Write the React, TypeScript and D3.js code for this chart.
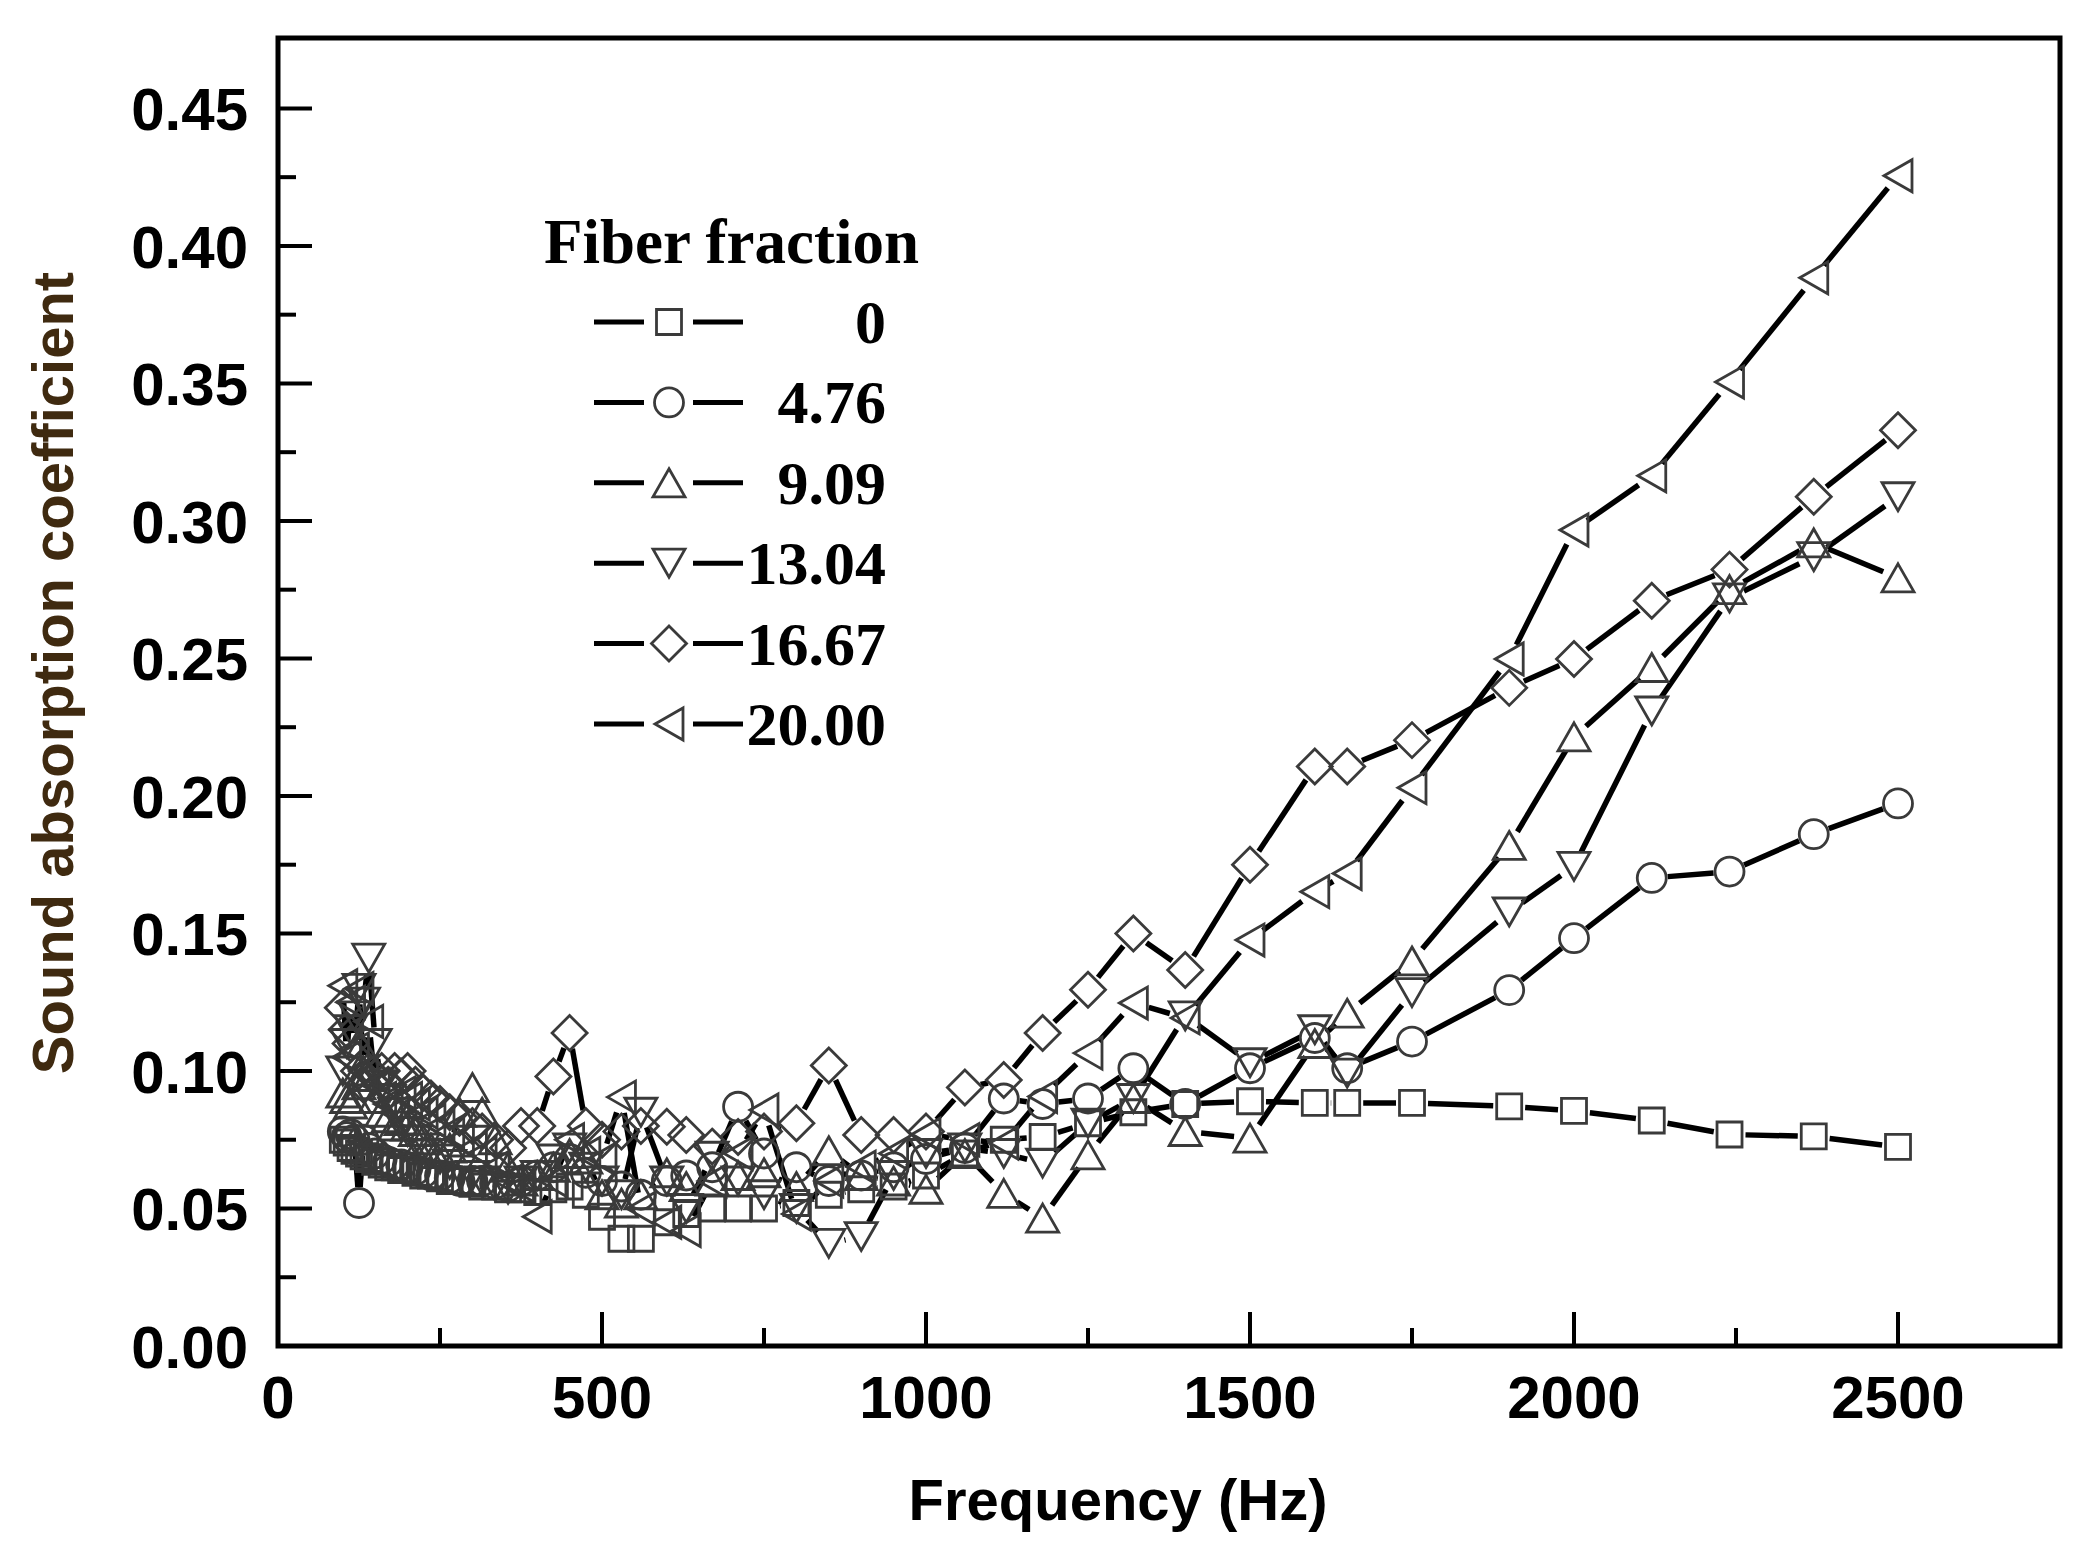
import * as d3 from "d3";

// frequencies (Hz) shared by all series
const FREQ = [
  100, 106, 112, 118, 125, 132, 140, 150, 160, 170,
  180, 190, 200, 212, 224, 236, 250, 265, 280, 300,
  315, 335, 355, 375, 400, 425, 450, 475, 500, 530,
  560, 600, 630, 670, 710, 750, 800, 850, 900, 950,
  1000, 1060, 1120, 1180, 1250, 1320, 1400, 1500, 1600, 1650,
  1750, 1900, 2000, 2120, 2240, 2370, 2500,
];

// sound absorption coefficient per fiber fraction
const FIBER_0 = [
  0.075, 0.074, 0.072, 0.071, 0.07, 0.069, 0.068, 0.067, 0.066, 0.065,
  0.065, 0.064, 0.064, 0.063, 0.062, 0.062, 0.061, 0.06, 0.06, 0.059,
  0.058, 0.058, 0.057, 0.057, 0.056, 0.057, 0.058, 0.055, 0.047, 0.039,
  0.039, 0.045, 0.048, 0.05, 0.05, 0.05, 0.052, 0.055, 0.057, 0.058,
  0.062, 0.07, 0.075, 0.076, 0.081, 0.085, 0.088, 0.089, 0.0884, 0.0884,
  0.0884, 0.0871, 0.0855, 0.082, 0.0769, 0.0762, 0.0724,
];
const FIBER_476 = [
  0.078, 0.076, 0.077, 0.075, 0.052, 0.075, 0.072, 0.07, 0.068, 0.067,
  0.066, 0.066, 0.065, 0.064, 0.063, 0.062, 0.062, 0.061, 0.06, 0.06,
  0.06, 0.059, 0.058, 0.06, 0.062, 0.065, 0.068, 0.063, 0.06, 0.058,
  0.055, 0.06, 0.062, 0.065, 0.087, 0.07, 0.065, 0.06, 0.062, 0.065,
  0.068, 0.072, 0.09, 0.088, 0.09, 0.101, 0.088, 0.101, 0.112, 0.101,
  0.1107, 0.1294, 0.1483, 0.1702, 0.1725, 0.1861, 0.1973,
];
const FIBER_909 = [
  0.092, 0.09, 0.088, 0.09, 0.095, 0.1, 0.098, 0.09, 0.085, 0.083,
  0.08, 0.082, 0.08, 0.078, 0.075, 0.072, 0.07, 0.072, 0.085, 0.094,
  0.085, 0.075, 0.065, 0.06, 0.062, 0.065, 0.07, 0.068, 0.055, 0.052,
  0.055, 0.063, 0.058, 0.06, 0.062, 0.063, 0.058, 0.071, 0.062, 0.06,
  0.057, 0.07, 0.0555, 0.0465, 0.0695, 0.09, 0.078, 0.0756, 0.11, 0.121,
  0.14, 0.182, 0.2215, 0.2467, 0.275, 0.292, 0.2793,
];
const FIBER_1304 = [
  0.1, 0.11, 0.115, 0.12, 0.13, 0.125, 0.141, 0.11, 0.095, 0.09,
  0.085, 0.08, 0.078, 0.075, 0.072, 0.07, 0.068, 0.066, 0.064, 0.062,
  0.06, 0.058, 0.057, 0.06, 0.062, 0.068, 0.072, 0.065, 0.06, 0.055,
  0.085, 0.06, 0.05, 0.069, 0.06, 0.055, 0.05, 0.0373, 0.0398, 0.062,
  0.07, 0.072, 0.07, 0.0665, 0.081, 0.09, 0.12, 0.103, 0.115, 0.0992,
  0.1285, 0.1578, 0.1744, 0.2309, 0.272, 0.287, 0.3088,
];
const FIBER_1667 = [
  0.123, 0.115, 0.11, 0.105, 0.1, 0.095, 0.1, 0.098, 0.1, 0.095,
  0.1, 0.098, 0.1, 0.095, 0.092, 0.09, 0.088, 0.085, 0.083, 0.08,
  0.078, 0.075, 0.072, 0.08, 0.08, 0.098, 0.1138, 0.08, 0.075, 0.078,
  0.08, 0.0797, 0.0767, 0.0725, 0.076, 0.078, 0.081, 0.102, 0.0767, 0.0767,
  0.078, 0.094, 0.0967, 0.1138, 0.1295, 0.15, 0.1367, 0.175, 0.2107, 0.2107,
  0.2203, 0.2393, 0.2498, 0.271, 0.2823, 0.3088, 0.333,
];
const FIBER_2000 = [
  0.131, 0.105, 0.125, 0.108, 0.13, 0.1, 0.118, 0.095, 0.09, 0.088,
  0.085, 0.092, 0.09, 0.088, 0.085, 0.082, 0.08, 0.078, 0.075, 0.072,
  0.07, 0.065, 0.06, 0.058, 0.047, 0.06, 0.075, 0.07, 0.068, 0.0905,
  0.05, 0.045, 0.042, 0.06, 0.07, 0.0858, 0.048, 0.06, 0.065, 0.07,
  0.077, 0.075, 0.0738, 0.0907, 0.1065, 0.1247, 0.1193, 0.1476, 0.1652, 0.1718,
  0.203, 0.2498, 0.2967, 0.3164, 0.3505, 0.3884, 0.4255,
];

const LABELS = ["0", "4.76", "9.09", "13.04", "16.67", "20.00"];
const SHAPES = ["square", "circle", "up", "down", "diamond", "left"];
const VALUES = [FIBER_0, FIBER_476, FIBER_909, FIBER_1304, FIBER_1667, FIBER_2000];

const X_TICKS = [0, 500, 1000, 1500, 2000, 2500];
const X_MINOR = [250, 750, 1250, 1750, 2250];
const Y_TICKS = [0, 0.05, 0.1, 0.15, 0.2, 0.25, 0.3, 0.35, 0.4, 0.45];
const Y_MINOR = [0.025, 0.075, 0.125, 0.175, 0.225, 0.275, 0.325, 0.375, 0.425];

const W = 2099;
const H = 1560;
const LEFT = 278;
const RIGHT = 2060;
const TOP = 38;
const BOTTOM = 1346;

const x = d3.scaleLinear().domain([0, 2750]).range([LEFT, RIGHT]);
const y = d3.scaleLinear().domain([0, 0.4756]).range([BOTTOM, TOP]);

const SANS = "'Liberation Sans', Arial, sans-serif";
const SERIF = "'Liberation Serif', 'Times New Roman', serif";
const SYMBOL_STROKE = "#3a3a3a";

// marker outline path centred on (cx, cy)
const markerPath = (shape: string, cx: number, cy: number) => {
  const p = d3.path();
  if (shape === "square") {
    p.rect(cx - 12.5, cy - 12.5, 25, 25);
  } else if (shape === "circle") {
    p.arc(cx, cy, 14.5, 0, Math.PI * 2);
  } else if (shape === "up") {
    p.moveTo(cx, cy - 14);
    p.lineTo(cx + 16, cy + 14);
    p.lineTo(cx - 16, cy + 14);
    p.closePath();
  } else if (shape === "down") {
    p.moveTo(cx, cy + 14);
    p.lineTo(cx + 16, cy - 14);
    p.lineTo(cx - 16, cy - 14);
    p.closePath();
  } else if (shape === "diamond") {
    p.moveTo(cx, cy - 17.5);
    p.lineTo(cx + 17.5, cy);
    p.lineTo(cx, cy + 17.5);
    p.lineTo(cx - 17.5, cy);
    p.closePath();
  } else {
    p.moveTo(cx - 14, cy);
    p.lineTo(cx + 14, cy - 16);
    p.lineTo(cx + 14, cy + 16);
    p.closePath();
  }
  return p.toString();
};

// line pieces between points, cut back so they stop short of the symbols
const gapSegments = (pts: [number, number][], gap: number) => {
  const out: [number, number, number, number][] = [];
  for (let i = 1; i < pts.length; i++) {
    const [x1, y1] = pts[i - 1];
    const [x2, y2] = pts[i];
    const len = Math.hypot(x2 - x1, y2 - y1);
    if (len <= gap * 2) continue;
    const ux = (x2 - x1) / len;
    const uy = (y2 - y1) / len;
    out.push([x1 + ux * gap, y1 + uy * gap, x2 - ux * gap, y2 - uy * gap]);
  }
  return out;
};

const LEG_Y0 = 322;
const LEG_STEP = 80.4;

export default function App() {
  const series = VALUES.map((vals, i) => ({
    label: LABELS[i],
    shape: SHAPES[i],
    pts: FREQ.map((f, j) => [x(f), y(vals[j])] as [number, number]),
  }));

  return (
    <svg
      width={W}
      height={H}
      style={{ position: "absolute", left: 0, top: 0, background: "#fff" }}
    >
      <rect x={0} y={0} width={W} height={H} fill="#fff" />

      {/* lines */}
      {series.map((s, i) => (
        <g key={"l" + i} stroke="#000" strokeWidth={5.5} strokeLinecap="butt">
          {gapSegments(s.pts, 16).map((seg, k) => (
            <line key={k} x1={seg[0]} y1={seg[1]} x2={seg[2]} y2={seg[3]} />
          ))}
        </g>
      ))}

      {/* symbols */}
      {series.map((s, i) => (
        <g key={"m" + i} fill="none" stroke={SYMBOL_STROKE} strokeWidth={2.8}>
          {s.pts.map(([px, py], k) => (
            <path key={k} d={markerPath(s.shape, px, py)} />
          ))}
        </g>
      ))}

      {/* frame */}
      <rect
        x={LEFT}
        y={TOP}
        width={RIGHT - LEFT}
        height={BOTTOM - TOP}
        fill="none"
        stroke="#000"
        strokeWidth={5}
      />

      {/* ticks point inward */}
      <g stroke="#000" strokeWidth={4}>
        {X_TICKS.map((t) => (
          <line key={t} x1={x(t)} x2={x(t)} y1={BOTTOM} y2={BOTTOM - 34} />
        ))}
        {X_MINOR.map((t) => (
          <line key={t} x1={x(t)} x2={x(t)} y1={BOTTOM} y2={BOTTOM - 18} />
        ))}
        {Y_TICKS.map((t) => (
          <line key={t} x1={LEFT} x2={LEFT + 34} y1={y(t)} y2={y(t)} />
        ))}
        {Y_MINOR.map((t) => (
          <line key={t} x1={LEFT} x2={LEFT + 18} y1={y(t)} y2={y(t)} />
        ))}
      </g>

      <g fontFamily={SANS} fontWeight="bold" fontSize={60} fill="#000">
        {X_TICKS.map((t) => (
          <text key={t} x={x(t)} y={1418} textAnchor="middle">
            {d3.format("d")(t)}
          </text>
        ))}
        {Y_TICKS.map((t) => (
          <text key={t} x={248} y={y(t)} dy="0.36em" textAnchor="end">
            {d3.format(".2f")(t)}
          </text>
        ))}
      </g>

      <text
        x={1118}
        y={1520}
        textAnchor="middle"
        fontFamily={SANS}
        fontWeight="bold"
        fontSize={58}
        fill="#000"
      >
        Frequency (Hz)
      </text>
      <text
        transform="translate(73,673) rotate(-90)"
        textAnchor="middle"
        fontFamily={SANS}
        fontWeight="bold"
        fontSize={58}
        fill="#3f2a10"
      >
        Sound absorption coefficient
      </text>

      {/* legend */}
      <g fontFamily={SERIF} fontWeight="bold" fill="#000">
        <text x={544} y={263} fontSize={63}>
          Fiber fraction
        </text>
        {series.map((s, i) => {
          const cy = LEG_Y0 + i * LEG_STEP;
          return (
            <g key={"lg" + i}>
              <line x1={594} x2={644} y1={cy} y2={cy} stroke="#000" strokeWidth={5} />
              <line x1={693} x2={743} y1={cy} y2={cy} stroke="#000" strokeWidth={5} />
              <path
                d={markerPath(s.shape, 669, cy)}
                fill="none"
                stroke={SYMBOL_STROKE}
                strokeWidth={2.8}
              />
              <text x={886} y={cy + 21} fontSize={62} textAnchor="end">
                {s.label}
              </text>
            </g>
          );
        })}
      </g>
    </svg>
  );
}
